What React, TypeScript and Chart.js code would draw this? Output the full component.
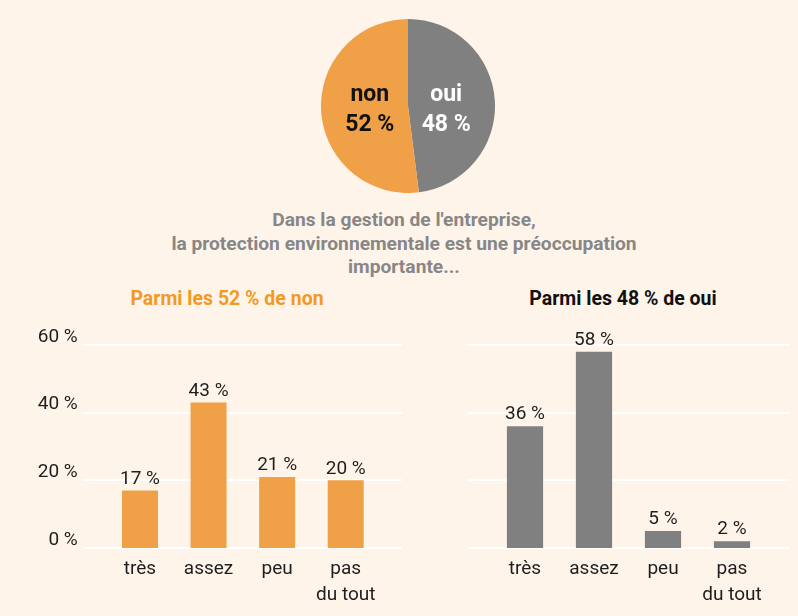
import React, { useEffect, useRef } from "react";
import Chart from "chart.js/auto";

const pieLabels = ["oui", "non"];
const pieValues = [48, 52];
const categories = [["très"], ["assez"], ["peu"], ["pas", "du tout"]];
const nonValues = [17, 43, 21, 20];
const ouiValues = [36, 58, 5, 2];
const yMin = 0;
const yMax = 60;
const yStep = 20;

const titleLines = [
  "Dans la gestion de l'entreprise,",
  "la protection environnementale est une préoccupation",
  "importante...",
];
const subtitleNon = "Parmi les 52 % de non";
const subtitleOui = "Parmi les 48 % de oui";

const BG = "#fef4ea";
const ORANGE = "#f0a148";
const GREY = "#808080";
const SUB_ORANGE = "#f39a1e";
const TITLE_GREY = "#878787";
const TEXT = "#1e1e1e";
const FONT = "Roboto, 'DejaVu Sans', sans-serif";

function PieChart() {
  const ref = useRef<HTMLCanvasElement>(null);
  useEffect(() => {
    const labelPlugin = {
      id: "pieLabels",
      afterDatasetsDraw(chart: any) {
        const { ctx } = chart;
        const meta = chart.getDatasetMeta(0);
        ctx.save();
        ctx.font = `bold 23px ${FONT}`;
        ctx.textAlign = "center";
        ctx.textBaseline = "middle";
        meta.data.forEach((arc: any, i: number) => {
          const a = arc.getProps(["x", "y", "startAngle", "endAngle", "outerRadius"]);
          const mid = (a.startAngle + a.endAngle) / 2;
          const r = a.outerRadius * 0.44;
          const px = a.x + Math.cos(mid) * r;
          const py = a.y + 4;
          ctx.fillStyle = i === 0 ? "#ffffff" : "#111111";
          ctx.fillText(pieLabels[i], px, py - 15);
          ctx.fillText(`${pieValues[i]} %`, px, py + 15);
        });
        ctx.restore();
      },
    };
    const chart = new Chart(ref.current!, {
      type: "pie",
      data: {
        labels: pieLabels,
        datasets: [
          { data: pieValues, backgroundColor: [GREY, ORANGE], borderWidth: 0 },
        ],
      },
      options: {
        responsive: false,
        animation: false,
        layout: { padding: 0 },
        plugins: { legend: { display: false }, tooltip: { enabled: false } },
      },
      plugins: [labelPlugin],
    });
    return () => chart.destroy();
  }, []);
  return (
    <canvas
      ref={ref}
      width={174}
      height={174}
      style={{ position: "absolute", left: 321, top: 19, width: 174, height: 174 }}
    />
  );
}

function BarChart(props: {
  values: number[];
  color: string;
  left: number;
  width: number;
  yAxisWidth: number;
  padRight: number;
  padTop: number;
  showY: boolean;
  extL: number;
  extR: number;
}) {
  const ref = useRef<HTMLCanvasElement>(null);
  useEffect(() => {
    const { values, color, yAxisWidth, padRight, padTop, showY, extL, extR } = props;
    const gridPlugin = {
      id: "extGrid",
      beforeDatasetsDraw(chart: any) {
        const { ctx, chartArea } = chart;
        const y = chart.scales.y;
        ctx.save();
        ctx.strokeStyle = "#ffffff";
        ctx.lineWidth = 2;
        y.ticks.forEach((t: any) => {
          const py = Math.round(y.getPixelForValue(t.value));
          ctx.beginPath();
          ctx.moveTo(chartArea.left - extL, py);
          ctx.lineTo(chartArea.right + extR, py);
          ctx.stroke();
        });
        ctx.restore();
      },
    };
    const valuePlugin = {
      id: "valueLabels",
      afterDatasetsDraw(chart: any) {
        const { ctx } = chart;
        const meta = chart.getDatasetMeta(0);
        ctx.save();
        ctx.font = `19px ${FONT}`;
        ctx.fillStyle = TEXT;
        ctx.textAlign = "center";
        ctx.textBaseline = "bottom";
        meta.data.forEach((bar: any, i: number) => {
          ctx.fillText(`${values[i]} %`, bar.x, bar.y - 2);
        });
        ctx.restore();
      },
    };
    const chart = new Chart(ref.current!, {
      type: "bar",
      data: {
        labels: categories,
        datasets: [
          {
            data: values,
            backgroundColor: color,
            borderWidth: 0,
            categoryPercentage: 1,
            barPercentage: 0.525,
          },
        ],
      },
      options: {
        responsive: false,
        animation: false,
        layout: { padding: { top: padTop, right: padRight, left: 0, bottom: 0 } },
        plugins: { legend: { display: false }, tooltip: { enabled: false } },
        scales: {
          x: {
            grid: { display: false, drawTicks: false },
            border: { display: false },
            ticks: {
              color: TEXT,
              font: { family: FONT, size: 19, lineHeight: 1.37 },
              padding: 8,
              maxRotation: 0,
              autoSkip: false,
            },
            afterFit: (s: any) => {
              s.height = 68;
              s.paddingLeft = 0;
              s.paddingRight = 0;
            },
          },
          y: {
            min: yMin,
            max: yMax,
            grid: { display: false, drawTicks: false },
            border: { display: false },
            ticks: {
              display: showY,
              stepSize: yStep,
              color: TEXT,
              font: { family: FONT, size: 19 },
              padding: 28,
              labelOffset: -8,
              callback: (v: any) => `${v} %`,
            },
            afterFit: (s: any) => {
              s.width = yAxisWidth;
              s.paddingTop = 0;
              s.paddingBottom = 0;
            },
          },
        },
      },
      plugins: [gridPlugin, valuePlugin],
    });
    return () => chart.destroy();
  }, []);
  return (
    <canvas
      ref={ref}
      width={props.width}
      height={296}
      style={{ position: "absolute", left: props.left, top: 320, width: props.width, height: 296 }}
    />
  );
}

export default function App() {
  return (
    <div
      style={{
        position: "fixed",
        left: 0,
        top: 0,
        width: 798,
        height: 616,
        background: BG,
        overflow: "hidden",
        fontFamily: FONT,
      }}
    >
      <PieChart />
      <div
        style={{
          position: "absolute",
          left: 0,
          top: 208,
          width: 808,
          textAlign: "center",
          fontWeight: "bold",
          fontSize: 19.2,
          lineHeight: "23.5px",
          color: TITLE_GREY,
        }}
      >
        {titleLines.map((l, i) => (
          <div key={i}>{l}</div>
        ))}
      </div>
      <div
        style={{
          position: "absolute",
          left: 27,
          width: 400,
          top: 289,
          lineHeight: "20px",
          textAlign: "center",
          fontWeight: "bold",
          fontSize: 19.5,
          color: SUB_ORANGE,
        }}
      >
        {subtitleNon}
      </div>
      <div
        style={{
          position: "absolute",
          left: 423,
          width: 400,
          top: 289,
          lineHeight: "20px",
          textAlign: "center",
          fontWeight: "bold",
          fontSize: 19.5,
          color: "#111111",
        }}
      >
        {subtitleOui}
      </div>
      <BarChart
        values={nonValues}
        color={ORANGE}
        left={20}
        width={390}
        yAxisWidth={85.7}
        padRight={30}
        padTop={25}
        showY={true}
        extL={22.7}
        extR={22}
      />
      <BarChart
        values={ouiValues}
        color={GREY}
        left={420}
        width={378}
        yAxisWidth={70.5}
        padRight={31.5}
        padTop={25}
        showY={false}
        extL={22.5}
        extR={23.5}
      />
    </div>
  );
}
